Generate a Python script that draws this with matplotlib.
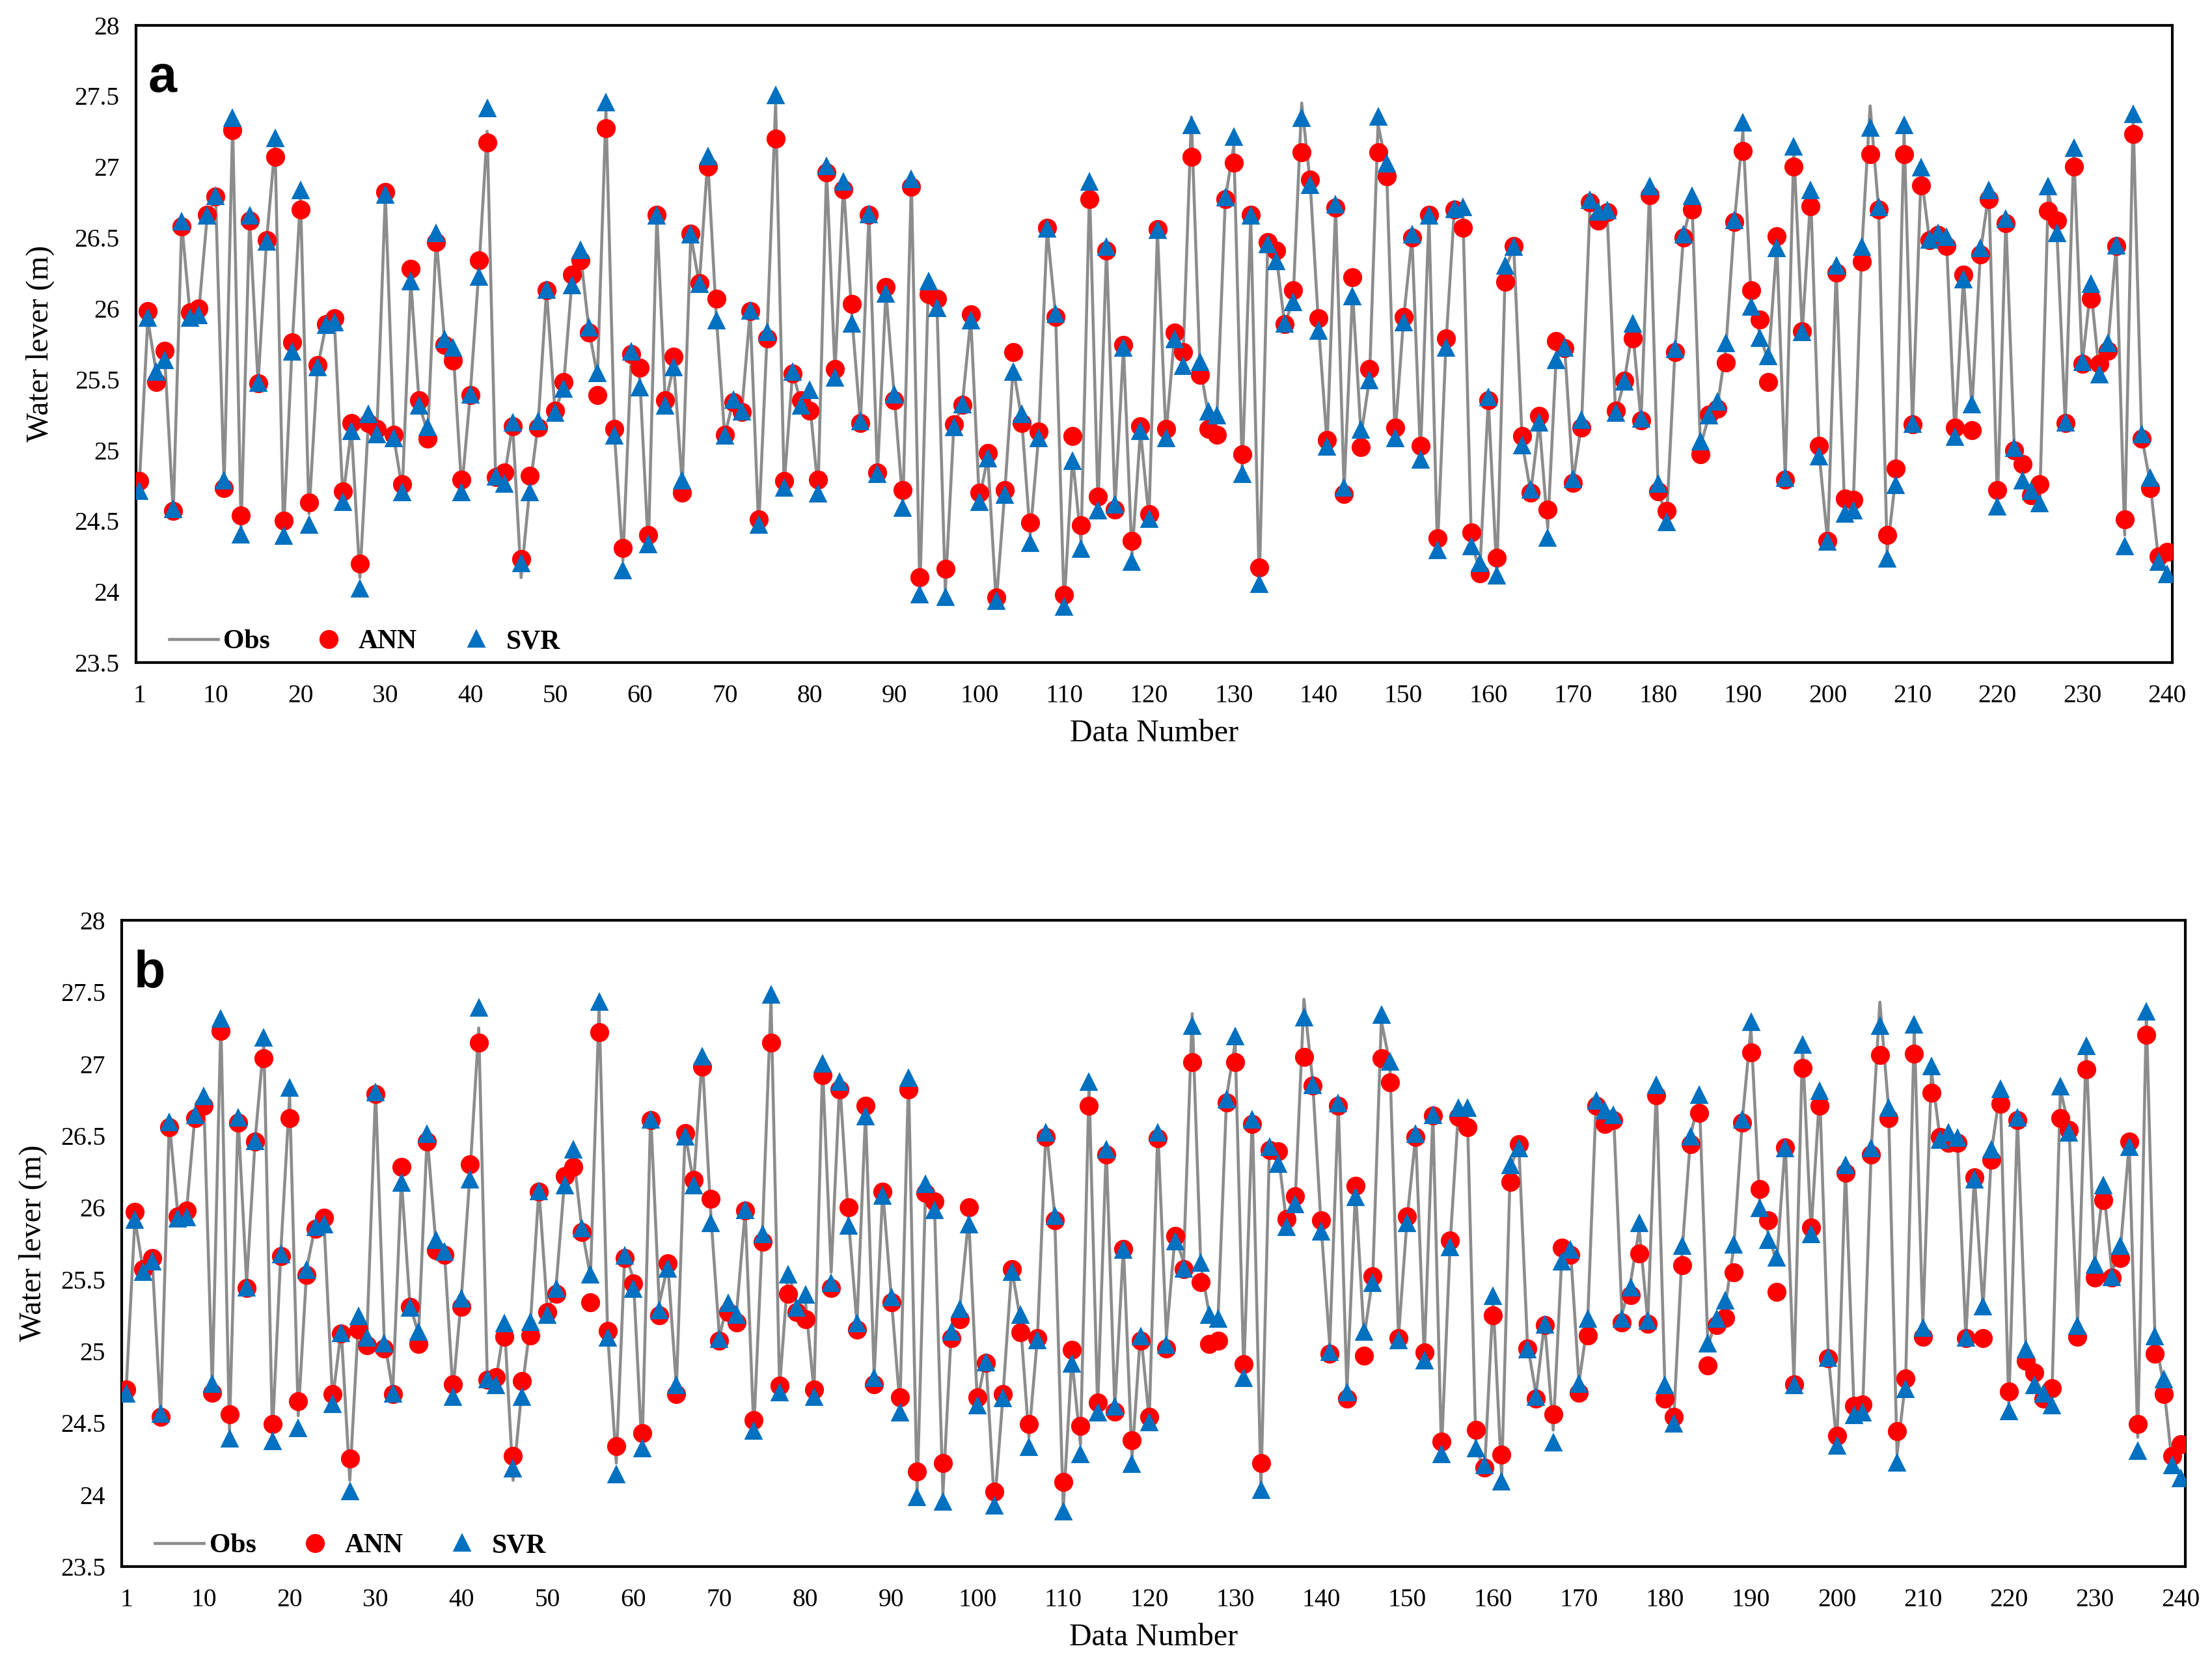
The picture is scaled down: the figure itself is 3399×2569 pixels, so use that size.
import numpy as np
import matplotlib
matplotlib.use("Agg")
import matplotlib.pyplot as plt
from matplotlib.lines import Line2D
from matplotlib.ticker import FuncFormatter

# data numbers 1..240
data_number = np.arange(1, 241)

obs = [
    24.75, 25.92, 25.55, 25.65, 24.56, 26.60, 25.95, 25.97, 26.65, 26.78,
    24.75, 27.30, 24.45, 26.64, 25.47, 26.48, 27.15, 24.42, 25.72, 26.78,
    24.55, 25.58, 25.88, 25.90, 24.66, 25.15, 24.10, 25.20, 25.12, 26.81,
    25.09, 24.72, 26.20, 25.32, 25.12, 26.50, 25.76, 25.70, 24.72, 25.39,
    26.25, 27.25, 24.80, 24.80, 25.18, 24.10, 24.72, 25.18, 26.13, 25.27,
    25.45, 26.20, 26.38, 25.85, 25.52, 27.40, 25.12, 24.22, 25.69, 25.50,
    24.30, 26.66, 25.33, 25.60, 24.75, 26.52, 26.17, 27.05, 25.95, 25.10,
    25.35, 25.27, 25.98, 24.45, 25.82, 27.45, 24.75, 25.55, 25.33, 25.35,
    24.72, 26.98, 25.55, 26.88, 25.93, 25.19, 26.66, 24.83, 26.12, 25.37,
    24.62, 26.90, 24.00, 26.17, 26.05, 24.00, 25.17, 25.32, 25.93, 24.65,
    24.95, 23.92, 24.70, 25.58, 25.22, 24.40, 25.10, 26.56, 25.95, 23.90,
    24.95, 24.35, 26.85, 24.60, 26.42, 24.60, 25.73, 24.25, 25.14, 24.52,
    26.55, 25.10, 25.80, 25.62, 27.35, 25.60, 25.25, 25.22, 26.77, 27.15,
    24.85, 26.65, 24.05, 26.46, 26.38, 25.88, 26.07, 27.45, 26.89, 25.87,
    25.04, 26.72, 24.72, 26.12, 25.10, 25.51, 27.30, 27.00, 25.10, 25.92,
    26.50, 24.96, 26.65, 24.30, 25.74, 26.70, 26.68, 24.35, 24.15, 25.36,
    24.12, 26.28, 26.43, 25.05, 24.70, 25.20, 24.45, 25.66, 25.72, 24.78,
    25.20, 26.76, 26.65, 26.68, 25.26, 25.48, 25.85, 25.21, 26.84, 24.74,
    24.50, 25.70, 26.51, 26.76, 25.03, 25.24, 25.31, 25.72, 26.61, 27.25,
    26.05, 25.82, 25.62, 26.45, 24.80, 27.12, 25.83, 26.80, 24.97, 24.35,
    26.28, 24.58, 24.60, 26.40, 27.43, 26.70, 24.28, 24.80, 27.25, 25.18,
    26.95, 26.48, 26.52, 26.48, 25.10, 26.22, 25.30, 26.40, 26.82, 24.62,
    26.62, 25.00, 24.82, 24.70, 24.66, 26.82, 26.56, 25.19, 27.10, 25.61,
    26.15, 25.55, 25.72, 26.44, 24.40, 27.35, 25.10, 24.77, 24.22, 24.15,
]

ann_a = [
    24.78, 25.98, 25.48, 25.70, 24.57, 26.58, 25.97, 26.00, 26.66, 26.79,
    24.73, 27.26, 24.54, 26.62, 25.47, 26.48, 27.07, 24.50, 25.76, 26.70,
    24.63, 25.60, 25.89, 25.93, 24.71, 25.19, 24.20, 25.19, 25.15, 26.82,
    25.11, 24.76, 26.28, 25.35, 25.08, 26.47, 25.74, 25.63, 24.79, 25.39,
    26.34, 27.17, 24.81, 24.84, 25.17, 24.23, 24.82, 25.16, 26.13, 25.28,
    25.48, 26.24, 26.34, 25.83, 25.39, 27.27, 25.15, 24.31, 25.68, 25.58,
    24.40, 26.66, 25.35, 25.66, 24.70, 26.53, 26.18, 27.00, 26.07, 25.11,
    25.34, 25.27, 25.98, 24.51, 25.79, 27.20, 24.78, 25.54, 25.35, 25.28,
    24.79, 26.96, 25.57, 26.84, 26.03, 25.19, 26.66, 24.84, 26.15, 25.35,
    24.72, 26.86, 24.10, 26.10, 26.07, 24.16, 25.18, 25.32, 25.96, 24.70,
    24.98, 23.96, 24.72, 25.69, 25.19, 24.49, 25.13, 26.57, 25.94, 23.98,
    25.10, 24.47, 26.77, 24.67, 26.41, 24.58, 25.74, 24.36, 25.17, 24.55,
    26.56, 25.15, 25.83, 25.69, 27.07, 25.53, 25.15, 25.11, 26.77, 27.03,
    24.97, 26.66, 24.17, 26.47, 26.41, 25.89, 26.13, 27.10, 26.91, 25.93,
    25.07, 26.71, 24.69, 26.22, 25.02, 25.57, 27.10, 26.93, 25.16, 25.94,
    26.50, 25.03, 26.66, 24.38, 25.79, 26.70, 26.57, 24.42, 24.13, 25.35,
    24.24, 26.19, 26.44, 25.10, 24.70, 25.24, 24.58, 25.77, 25.72, 24.77,
    25.16, 26.75, 26.62, 26.68, 25.28, 25.49, 25.79, 25.21, 26.80, 24.71,
    24.57, 25.69, 26.50, 26.70, 24.97, 25.25, 25.29, 25.62, 26.61, 27.11,
    26.13, 25.92, 25.48, 26.51, 24.79, 27.00, 25.84, 26.72, 25.03, 24.36,
    26.25, 24.66, 24.65, 26.33, 27.09, 26.70, 24.40, 24.87, 27.09, 25.18,
    26.87, 26.48, 26.52, 26.44, 25.16, 26.24, 25.14, 26.38, 26.77, 24.72,
    26.60, 25.00, 24.90, 24.68, 24.76, 26.69, 26.62, 25.19, 27.00, 25.61,
    26.07, 25.61, 25.70, 26.44, 24.51, 27.23, 25.08, 24.73, 24.25, 24.28,
]

svr_a = [
    24.71, 25.93, 25.55, 25.63, 24.58, 26.61, 25.93, 25.95, 26.65, 26.79,
    24.78, 27.34, 24.40, 26.65, 25.47, 26.47, 27.20, 24.39, 25.69, 26.83,
    24.47, 25.58, 25.88, 25.90, 24.63, 25.13, 24.02, 25.25, 25.11, 26.80,
    25.08, 24.70, 26.19, 25.31, 25.16, 26.53, 25.78, 25.72, 24.70, 25.39,
    26.22, 27.41, 24.81, 24.76, 25.19, 24.20, 24.70, 25.20, 26.13, 25.26,
    25.43, 26.16, 26.41, 25.86, 25.54, 27.45, 25.10, 24.15, 25.69, 25.44,
    24.33, 26.65, 25.31, 25.58, 24.78, 26.52, 26.17, 27.07, 25.91, 25.10,
    25.35, 25.27, 25.98, 24.47, 25.83, 27.50, 24.73, 25.55, 25.31, 25.42,
    24.69, 27.00, 25.51, 26.89, 25.89, 25.20, 26.66, 24.83, 26.10, 25.39,
    24.59, 26.91, 23.98, 26.19, 26.00, 23.96, 25.16, 25.32, 25.91, 24.63,
    24.94, 23.93, 24.68, 25.55, 25.25, 24.34, 25.08, 26.56, 25.96, 23.89,
    24.92, 24.30, 26.89, 24.57, 26.43, 24.61, 25.72, 24.21, 25.13, 24.51,
    26.55, 25.08, 25.78, 25.59, 27.29, 25.62, 25.27, 25.24, 26.78, 27.21,
    24.83, 26.65, 24.05, 26.45, 26.33, 25.89, 26.04, 27.34, 26.87, 25.84,
    25.02, 26.73, 24.73, 26.08, 25.14, 25.49, 27.35, 27.02, 25.08, 25.90,
    26.52, 24.93, 26.65, 24.29, 25.72, 26.70, 26.71, 24.32, 24.20, 25.37,
    24.11, 26.30, 26.43, 25.03, 24.72, 25.19, 24.38, 25.63, 25.72, 24.79,
    25.21, 26.76, 26.68, 26.69, 25.26, 25.48, 25.89, 25.22, 26.86, 24.76,
    24.49, 25.71, 26.52, 26.79, 25.06, 25.24, 25.34, 25.75, 26.62, 27.31,
    26.01, 25.79, 25.66, 26.42, 24.80, 27.14, 25.83, 26.83, 24.95, 24.35,
    26.30, 24.55, 24.57, 26.43, 27.27, 26.71, 24.23, 24.75, 27.29, 25.18,
    26.99, 26.48, 26.53, 26.50, 25.09, 26.20, 25.32, 26.42, 26.83, 24.60,
    26.63, 25.01, 24.78, 24.71, 24.62, 26.86, 26.53, 25.19, 27.13, 25.62,
    26.17, 25.53, 25.75, 26.44, 24.32, 27.37, 25.11, 24.80, 24.21, 24.12,
]

ann_b = [
    24.73, 25.97, 25.57, 25.65, 24.54, 26.56, 25.94, 25.98, 26.62, 26.71,
    24.71, 27.23, 24.56, 26.59, 25.44, 26.46, 27.04, 24.49, 25.66, 26.62,
    24.65, 25.53, 25.85, 25.93, 24.70, 25.12, 24.25, 25.15, 25.04, 26.79,
    25.02, 24.70, 26.28, 25.31, 25.05, 26.46, 25.70, 25.67, 24.77, 25.31,
    26.30, 27.15, 24.80, 24.82, 25.10, 24.27, 24.79, 25.11, 26.11, 25.27,
    25.40, 26.22, 26.28, 25.83, 25.34, 27.22, 25.14, 24.34, 25.65, 25.47,
    24.43, 26.61, 25.25, 25.61, 24.70, 26.52, 26.19, 26.98, 26.06, 25.07,
    25.27, 25.20, 25.98, 24.52, 25.76, 27.15, 24.76, 25.40, 25.27, 25.22,
    24.73, 26.92, 25.44, 26.82, 26.00, 25.15, 26.71, 24.77, 26.11, 25.34,
    24.68, 26.82, 24.16, 26.10, 26.04, 24.22, 25.09, 25.22, 26.00, 24.68,
    24.92, 24.02, 24.70, 25.57, 25.13, 24.49, 25.09, 26.49, 25.91, 24.09,
    25.01, 24.48, 26.71, 24.64, 26.37, 24.58, 25.71, 24.38, 25.07, 24.54,
    26.48, 25.02, 25.80, 25.57, 27.01, 25.48, 25.05, 25.07, 26.73, 27.01,
    24.91, 26.58, 24.22, 26.40, 26.39, 25.92, 26.08, 27.05, 26.85, 25.91,
    24.98, 26.71, 24.67, 26.15, 24.97, 25.52, 27.04, 26.87, 25.09, 25.94,
    26.49, 24.99, 26.64, 24.37, 25.77, 26.63, 26.56, 24.45, 24.19, 25.25,
    24.28, 26.18, 26.44, 25.02, 24.67, 25.18, 24.56, 25.72, 25.67, 24.71,
    25.11, 26.71, 26.58, 26.61, 25.20, 25.39, 25.68, 25.19, 26.78, 24.67,
    24.54, 25.60, 26.44, 26.66, 24.90, 25.18, 25.23, 25.55, 26.59, 27.08,
    26.13, 25.91, 25.41, 26.42, 24.77, 26.97, 25.86, 26.71, 24.95, 24.41,
    26.24, 24.62, 24.63, 26.37, 27.06, 26.62, 24.44, 24.81, 27.07, 25.10,
    26.80, 26.49, 26.45, 26.45, 25.09, 26.21, 25.09, 26.33, 26.72, 24.72,
    26.61, 24.93, 24.85, 24.67, 24.74, 26.62, 26.54, 25.10, 26.96, 25.51,
    26.05, 25.51, 25.65, 26.46, 24.49, 27.20, 24.98, 24.70, 24.27, 24.35,
]

svr_b = [
    24.70, 25.91, 25.55, 25.62, 24.56, 26.59, 25.92, 25.93, 26.64, 26.77,
    24.77, 27.31, 24.39, 26.62, 25.44, 26.46, 27.18, 24.37, 25.67, 26.83,
    24.46, 25.56, 25.86, 25.88, 24.63, 25.12, 24.02, 25.24, 25.09, 26.80,
    25.05, 24.70, 26.17, 25.30, 25.13, 26.51, 25.77, 25.69, 24.68, 25.36,
    26.19, 27.39, 24.80, 24.76, 25.19, 24.18, 24.68, 25.20, 26.11, 25.25,
    25.43, 26.15, 26.40, 25.85, 25.53, 27.43, 25.09, 24.14, 25.66, 25.43,
    24.32, 26.61, 25.28, 25.57, 24.76, 26.49, 26.15, 27.05, 25.89, 25.08,
    25.33, 25.25, 25.98, 24.44, 25.81, 27.48, 24.71, 25.53, 25.30, 25.39,
    24.68, 27.00, 25.47, 26.87, 25.87, 25.19, 26.63, 24.81, 26.08, 25.37,
    24.57, 26.90, 23.98, 26.16, 25.98, 23.95, 25.13, 25.29, 25.88, 24.62,
    24.92, 23.92, 24.67, 25.55, 25.25, 24.33, 25.07, 26.52, 25.94, 23.88,
    24.91, 24.28, 26.87, 24.57, 26.40, 24.61, 25.70, 24.21, 25.10, 24.50,
    26.52, 25.04, 25.76, 25.57, 27.26, 25.61, 25.25, 25.22, 26.75, 27.19,
    24.81, 26.61, 24.03, 26.42, 26.30, 25.86, 26.02, 27.32, 26.85, 25.83,
    24.99, 26.72, 24.71, 26.07, 25.13, 25.47, 27.34, 27.01, 25.07, 25.89,
    26.51, 24.93, 26.64, 24.28, 25.72, 26.69, 26.69, 24.32, 24.20, 25.38,
    24.09, 26.29, 26.41, 25.01, 24.68, 25.18, 24.36, 25.62, 25.70, 24.77,
    25.22, 26.74, 26.67, 26.64, 25.22, 25.44, 25.89, 25.21, 26.85, 24.76,
    24.49, 25.73, 26.49, 26.78, 25.05, 25.22, 25.35, 25.74, 26.61, 27.29,
    25.99, 25.77, 25.65, 26.41, 24.76, 27.13, 25.81, 26.81, 24.95, 24.34,
    26.29, 24.55, 24.57, 26.41, 27.26, 26.69, 24.22, 24.73, 27.27, 25.16,
    26.98, 26.47, 26.52, 26.48, 25.09, 26.19, 25.31, 26.40, 26.82, 24.58,
    26.62, 25.01, 24.76, 24.70, 24.62, 26.84, 26.52, 25.17, 27.12, 25.60,
    26.15, 25.51, 25.73, 26.42, 24.30, 27.36, 25.10, 24.80, 24.20, 24.11,
]

x_ticks = [1] + list(range(10, 241, 10))
y_ticks = np.arange(23.5, 28.01, 0.5)

SERIF = "Liberation Serif"
OBS_COLOR = "#8c8c8c"
ANN_COLOR = "#ff0000"
SVR_COLOR = "#0070c0"


def draw_panel(ax, ann, svr, letter, xlim, ylab_x):
    ax.plot(data_number, obs, color=OBS_COLOR, lw=1.1, zorder=2)
    ax.plot(data_number, ann, ls="none", marker="o", ms=6, color=ANN_COLOR,
            mec=ANN_COLOR, zorder=3)
    ax.plot(data_number, svr, ls="none", marker="^", ms=5.5, color=SVR_COLOR,
            mec=SVR_COLOR, zorder=4)

    ax.set_xlim(*xlim)
    ax.set_ylim(23.5, 28)
    ax.set_xticks(x_ticks)
    ax.set_yticks(y_ticks)
    ax.yaxis.set_major_formatter(FuncFormatter(lambda v, p: "%g" % v))
    ax.tick_params(length=0, labelsize=9.5)
    ax.tick_params(axis="x", pad=8)
    ax.tick_params(axis="y", pad=6)
    for lab in ax.get_xticklabels() + ax.get_yticklabels():
        lab.set_fontfamily(SERIF)
    for s in ax.spines.values():
        s.set_linewidth(1.0)
        s.set_color("black")

    ax.set_xlabel("Data Number", fontsize=11.5, family=SERIF, labelpad=4)
    ax.set_ylabel("Water lever (m)", fontsize=11.5, family=SERIF)
    ax.yaxis.set_label_coords(ylab_x, 0.5)

    ax.text(0.006, 0.955, letter, transform=ax.transAxes, fontsize=19,
            fontweight="bold", family="Liberation Sans", va="top", ha="left")

    handles = [
        Line2D([], [], color=OBS_COLOR, lw=1.1),
        Line2D([], [], ls="none", marker="o", ms=6, color=ANN_COLOR),
        Line2D([], [], ls="none", marker="^", ms=5.5, color=SVR_COLOR),
    ]
    ax.legend(handles, ["Obs", "ANN", "SVR"], loc="lower left",
              bbox_to_anchor=(0.011, -0.004), borderaxespad=0, ncol=3,
              frameon=False, handlelength=1.8, handletextpad=0.2,
              columnspacing=1.27, prop={"family": SERIF, "weight": "bold",
                                        "size": 10})


fig = plt.figure(figsize=(3399 / 300, 2569 / 300), dpi=300)

ax_a = fig.add_axes([0.0614, 0.6037, 0.9206, 0.3813])
draw_panel(ax_a, ann_a, svr_a, "a", (0.59, 240.6), -0.040)

ax_b = fig.add_axes([0.0550, 0.0631, 0.9330, 0.3865])
draw_panel(ax_b, ann_b, svr_b, "b", (0.46, 240.55), -0.036)

fig.savefig("out.png", dpi=300, facecolor="white")
